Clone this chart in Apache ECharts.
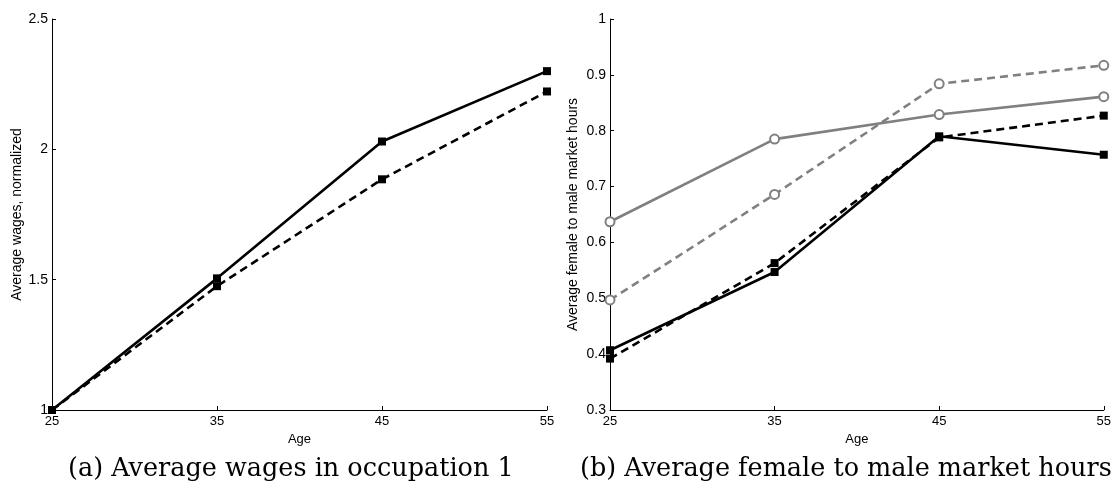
<!DOCTYPE html>
<html><head><meta charset="utf-8">
<script src="https://cdn.jsdelivr.net/npm/echarts@6/dist/echarts.min.js"></script>
<style>html,body{margin:0;padding:0;background:#fff}#c{width:1114px;height:489px}</style>
</head><body><div id="c"></div>
<script>
const ages = ['25','35','45','55'];
const wagesSolid = [1.0, 1.505, 2.03, 2.30];
const wagesDashed = [1.0, 1.475, 1.885, 2.222];
const hoursBlackSolid = [0.407, 0.547, 0.790, 0.757];
const hoursBlackDashed = [0.392, 0.563, 0.788, 0.827];
const hoursGraySolid = [0.637, 0.785, 0.829, 0.861];
const hoursGrayDashed = [0.497, 0.686, 0.884, 0.917];
const leftYTicks = {min: 1, max: 2.5, interval: 0.5};
const rightYTicks = {min: 0.3, max: 1, interval: 0.1};

const FONT = 'Liberation Sans';
const GRAY = '#808080';
function xAxis(gi){
  return {type:'category', gridIndex:gi, data:ages, boundaryGap:false,
    name:'Age', nameLocation:'middle', nameGap:22,
    nameTextStyle:{fontFamily:FONT, fontSize:13, color:'#000'},
    axisLine:{lineStyle:{color:'#000', width:1}},
    axisTick:{inside:true, length:4, alignWithLabel:true, lineStyle:{color:'#000'}},
    axisLabel:{fontFamily:FONT, fontSize:13, color:'#000', margin:5, showMinLabel:true, showMaxLabel:true, interval:0},
    splitLine:{show:false}};
}
function yAxis(gi, t, name, gap, dec){
  return {type:'value', gridIndex:gi, min:t.min, max:t.max, interval:t.interval,
    name:name, nameLocation:'middle', nameGap:gap,
    nameTextStyle:{fontFamily:FONT, fontSize:14, color:'#000'},
    axisLine:{show:true, lineStyle:{color:'#000', width:1}},
    axisTick:{show:true, inside:true, length:4, lineStyle:{color:'#000'}},
    axisLabel:{fontFamily:FONT, fontSize:14, color:'#000', margin:4,
      formatter:v=>(+v.toFixed(dec)).toString()},
    splitLine:{show:false}};
}
function line(gi, data, color, dashed, sym){
  return {type:'line', xAxisIndex:gi, yAxisIndex:gi, data:data,
    symbol: sym==='sq' ? 'rect' : 'emptyCircle', symbolSize: sym==='sq' ? 8 : 9,
    itemStyle: sym==='sq' ? {color:'#000', borderColor:'#000', borderWidth:0} : {color:color, borderColor:color, borderWidth:2.2},
    lineStyle:{color:color, width:2.6, type: dashed ? [8,5] : 'solid'},
    animation:false, z: sym==='sq'?3:2};
}
const chart = echarts.init(document.getElementById('c'));
chart.setOption({
  animation:false,
  grid:[{left:52, right:567, top:19, bottom:79},{left:610, right:9, top:19, bottom:79}],
  xAxis:[xAxis(0), xAxis(1)],
  yAxis:[yAxis(0, leftYTicks, 'Average wages, normalized', 28, 1), yAxis(1, rightYTicks, 'Average female to male market hours', 30, 1)],
  series:[
    line(0, wagesSolid, '#000', false, 'sq'),
    line(0, wagesDashed, '#000', true, 'sq'),
    line(1, hoursGraySolid, GRAY, false, 'ci'),
    line(1, hoursGrayDashed, GRAY, true, 'ci'),
    line(1, hoursBlackSolid, '#000', false, 'sq'),
    line(1, hoursBlackDashed, '#000', true, 'sq')
  ],
  graphic:[
    {type:'text', left:68, top:456, style:{text:'(a) Average wages in occupation 1', font:'25.5px "DejaVu Serif"', fill:'#000'}},
    {type:'text', left:580, top:456, style:{text:'(b) Average female to male market hours', font:'25.5px "DejaVu Serif"', fill:'#000'}}
  ]
});
</script></body></html>
